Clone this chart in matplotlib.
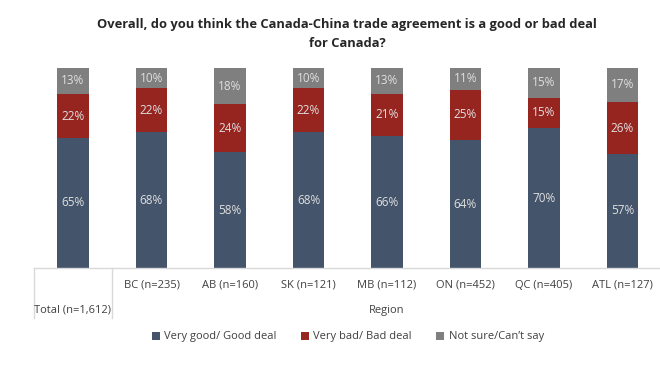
import matplotlib
matplotlib.use("Agg")
import matplotlib.pyplot as plt
from matplotlib.patches import Patch
import numpy as np

categories = ["Total (n=1,612)", "BC (n=235)", "AB (n=160)", "SK (n=121)",
              "MB (n=112)", "ON (n=452)", "QC (n=405)", "ATL (n=127)"]
good = [65, 68, 58, 68, 66, 64, 70, 57]
bad = [22, 22, 24, 22, 21, 25, 15, 26]
unsure = [13, 10, 18, 10, 13, 11, 15, 17]
series_names = ["Very good/ Good deal", "Very bad/ Bad deal", "Not sure/Can\u2019t say"]
colors = ["#44546A", "#962520", "#7F7F7F"]
title = "Overall, do you think the Canada-China trade agreement is a good or bad deal\nfor Canada?"
group_label = "Region"

plt.rcParams['font.family'] = ['Open Sans', 'DejaVu Sans']

W, H = 660, 370
fig = plt.figure(figsize=(W / 100, H / 100), dpi=100)
fig.patch.set_facecolor("white")

ax_left, ax_right = 34, 660
ax_top, ax_bottom = 68, 268
ax = fig.add_axes([ax_left / W, 1 - ax_bottom / H, (ax_right - ax_left) / W, (ax_bottom - ax_top) / H])

x = np.arange(len(categories))
step = 78.5
xmin = -(73 - ax_left) / step
xmax = xmin + (ax_right - ax_left) / step
ax.set_xlim(xmin, xmax)
ax.set_ylim(0, 100)

width = 0.40
bottoms = np.zeros(len(categories))
for vals, col in zip([good, bad, unsure], colors):
    vals = np.array(vals, dtype=float)
    ax.bar(x, vals, width, bottom=bottoms, color=col, edgecolor="none")
    for xi, b, v in zip(x, bottoms, vals):
        ax.text(xi, b + v / 2, f"{int(v)}%", ha="center", va="center",
                color="#E0E0E0", fontsize=8.5)
    bottoms += vals

for s in ["top", "right", "left"]:
    ax.spines[s].set_visible(False)
ax.spines["bottom"].set_color("#D9D9D9")
ax.spines["bottom"].set_linewidth(1)
ax.set_yticks([])
ax.set_xticks([])

# Category labels
trans = ax.get_xaxis_transform()
def ypix(p):
    # pixel y (from top) to axes fraction
    return (ax_bottom - p) / (ax_bottom - ax_top)

for i, c in enumerate(categories):
    yy = 310 if i == 0 else 285
    ax.text(i, ypix(yy), c, transform=trans, ha="center", va="center",
            fontsize=8, color="#404040", clip_on=False)
ax.text((1 + len(categories) - 1) / 2, ypix(310), group_label, transform=trans,
        ha="center", va="center", fontsize=8, color="#404040", clip_on=False)

# Separator lines
for xs in [xmin + 0.005, 0.5]:
    ax.plot([xs, xs], [0, ypix(318)], transform=trans, color="#D9D9D9",
            lw=1, clip_on=False)

# Title
fig.text(347 / W, 1 - 34 / H, title, ha="center", va="center",
         fontsize=9.3, fontweight="bold", color="#262626", linespacing=1.6)

# Legend
handles = [Patch(facecolor=c, edgecolor="none") for c in colors]
fig.legend(handles, series_names, loc="center", bbox_to_anchor=(348 / W, 1 - 337 / H),
           ncol=3, frameon=False, fontsize=8, handlelength=0.7, handleheight=0.7,
           handletextpad=0.4, columnspacing=2.2, labelcolor="#404040")

fig.savefig("out.png", dpi=100, facecolor="white")
